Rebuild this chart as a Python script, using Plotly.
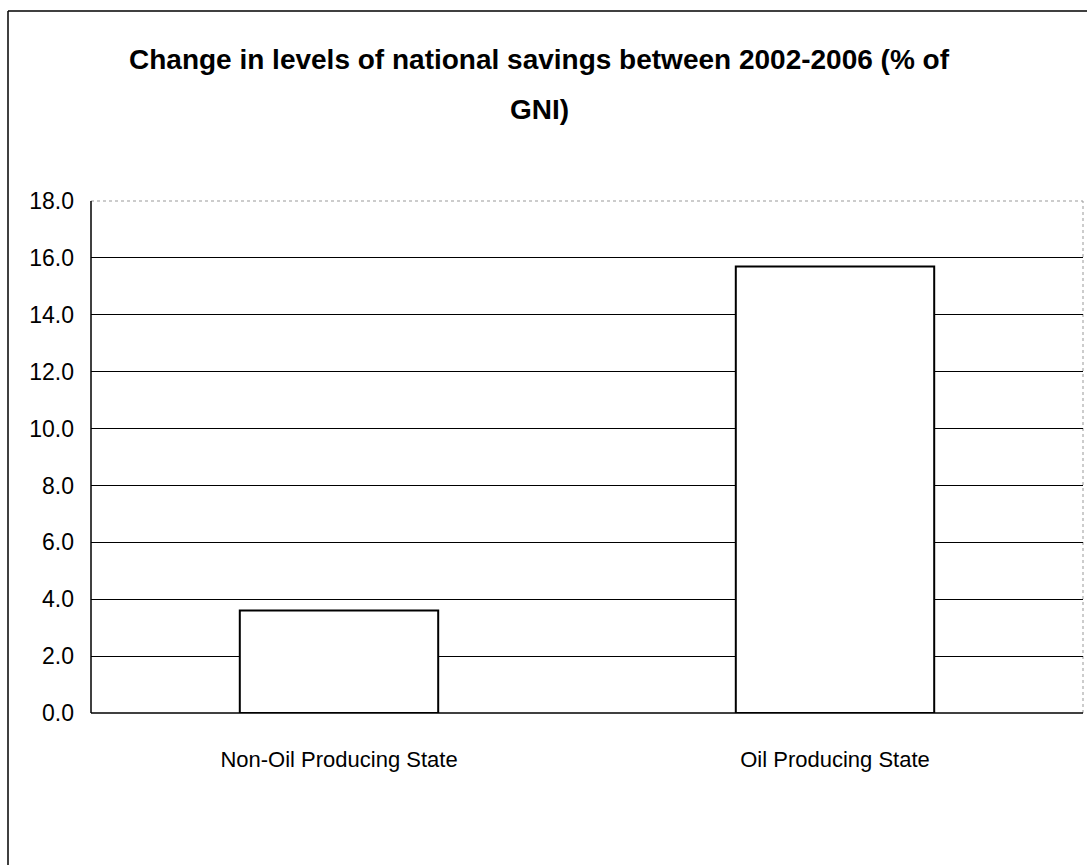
import plotly.graph_objects as go

# Savings change by state group (% of GNI)
categories = ["Non-Oil Producing State", "Oil Producing State"]
savings_change = [3.6, 15.7]
y_ticks = [0, 2, 4, 6, 8, 10, 12, 14, 16, 18]
title_lines = ["Change in levels of national savings between 2002-2006 (% of", "GNI)"]

W, H = 1087, 865
L, R, T, B = 91, 4, 201, 152
pw, ph = W - L - R, H - T - B


def px_x(x):
    return (x - L) / pw


def px_y(y):
    return (H - B - y) / ph


fig = go.Figure(
    go.Bar(
        x=categories,
        y=savings_change,
        marker=dict(color="white", line=dict(color="black", width=2)),
        width=0.4,
    )
)

font_family = "Liberation Sans, Arial, sans-serif"

fig.update_layout(
    width=W,
    height=H,
    margin=dict(l=L, r=R, t=T, b=B),
    paper_bgcolor="white",
    plot_bgcolor="white",
    showlegend=False,
    font=dict(family=font_family, color="black"),
    xaxis=dict(
        range=[-0.5, 1.5],
        showgrid=False,
        showline=False,
        ticks="",
        tickfont=dict(size=22),
        ticklabelstandoff=31,
    ),
    yaxis=dict(
        range=[0, 18],
        tickvals=y_ticks,
        ticktext=[f"{v:.1f}" for v in y_ticks],
        showgrid=True,
        gridcolor="black",
        gridwidth=1,
        zeroline=False,
        showline=False,
        ticks="",
        tickfont=dict(size=23),
        ticklabelstandoff=16,
    ),
)

# Plot-area frame: solid left/bottom, faint dotted top/right
fig.add_shape(type="line", xref="paper", yref="paper", x0=0, x1=1, y0=1, y1=1,
              line=dict(color="#999999", width=1, dash="dot"), layer="below")
fig.add_shape(type="line", xref="paper", yref="paper", x0=1, x1=1, y0=0, y1=1,
              line=dict(color="#999999", width=1, dash="dot"), layer="below")
fig.add_shape(type="line", xref="paper", yref="paper", x0=0, x1=0, y0=0, y1=1,
              line=dict(color="black", width=1.5))
fig.add_shape(type="line", xref="paper", yref="paper", x0=0, x1=1, y0=0, y1=0,
              line=dict(color="black", width=1.5))

# Outer chart border (left and top edges)
fig.add_shape(type="line", xref="paper", yref="paper",
              x0=px_x(8), x1=px_x(8), y0=px_y(H + 20), y1=px_y(11),
              line=dict(color="black", width=1.5))
fig.add_shape(type="line", xref="paper", yref="paper",
              x0=px_x(8), x1=px_x(W + 20), y0=px_y(11), y1=px_y(11),
              line=dict(color="black", width=1.5))

# Two-line title
for text, ypix in zip(title_lines, [59, 109]):
    fig.add_annotation(
        text=f"<b>{text}</b>",
        xref="paper", yref="paper",
        x=px_x(539), y=px_y(ypix),
        xanchor="center", yanchor="middle",
        showarrow=False,
        font=dict(size=28, family=font_family, color="black"),
    )

fig.write_html("out.html")
